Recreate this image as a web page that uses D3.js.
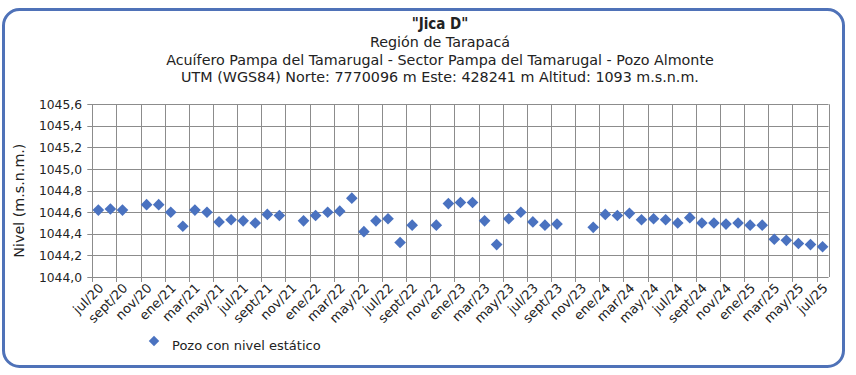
<!DOCTYPE html>
<html><head><meta charset="utf-8">
<script src="https://cdn.jsdelivr.net/npm/d3@7"></script>
<style>body{margin:0;background:#fff}svg{display:block}</style>
</head><body>
<script>
// month buckets on the axis (jul/20 .. jul/25)
const axisStart = "2020-07";
const axisEnd = "2025-07";
const tickLabels = ["jul/20","sept/20","nov/20","ene/21","mar/21","may/21","jul/21","sept/21","nov/21","ene/22","mar/22","may/22","jul/22","sept/22","nov/22","ene/23","mar/23","may/23","jul/23","sept/23","nov/23","ene/24","mar/24","may/24","jul/24","sept/24","nov/24","ene/25","mar/25","may/25","jul/25"];
const dates = ["2020-07","2020-08","2020-09","2020-11","2020-12","2021-01","2021-02","2021-03","2021-04","2021-05","2021-06","2021-07","2021-08","2021-09","2021-10","2021-12","2022-01","2022-02","2022-03","2022-04","2022-05","2022-06","2022-07","2022-08","2022-09","2022-11","2022-12","2023-01","2023-02","2023-03","2023-04","2023-05","2023-06","2023-07","2023-08","2023-09","2023-12","2024-01","2024-02","2024-03","2024-04","2024-05","2024-06","2024-07","2024-08","2024-09","2024-10","2024-11","2024-12","2025-01","2025-02","2025-03","2025-04","2025-05","2025-06","2025-07"];
const levels = [1044.62,1044.63,1044.62,1044.67,1044.67,1044.60,1044.47,1044.62,1044.60,1044.51,1044.53,1044.52,1044.50,1044.58,1044.57,1044.52,1044.57,1044.60,1044.61,1044.73,1044.42,1044.52,1044.54,1044.32,1044.48,1044.48,1044.68,1044.69,1044.69,1044.52,1044.30,1044.54,1044.60,1044.51,1044.48,1044.49,1044.46,1044.58,1044.57,1044.59,1044.53,1044.54,1044.53,1044.50,1044.55,1044.50,1044.50,1044.49,1044.50,1044.48,1044.48,1044.35,1044.34,1044.31,1044.30,1044.28];
const yTicks = [1044.0,1044.2,1044.4,1044.6,1044.8,1045.0,1045.2,1045.4,1045.6];
const titleLines = ["\"Jica D\"","Región de Tarapacá","Acuífero Pampa del Tamarugal - Sector Pampa del Tamarugal - Pozo Almonte","UTM (WGS84) Norte: 7770096 m Este: 428241 m Altitud: 1093 m.s.n.m."];
const yLabel = "Nivel (m.s.n.m.)";
const legendLabel = "Pozo con nivel estático";

const W = 856, H = 375;
const m = {left: 92.3, right: 856-828.6, top: 104.3, bottom: 375-277};
const svg = d3.select("body").append("svg").attr("width", W).attr("height", H);

// outer rounded border
svg.append("rect").attr("x", 3.5).attr("y", 9.5).attr("width", 840).attr("height", 357)
  .attr("rx", 16).attr("fill", "#fff").attr("stroke", "#4F72B8").attr("stroke-width", 3);

const parse = d3.utcParse("%Y-%m");
const monthIndex = s => { const d = parse(s); return d3.utcMonth.count(parse(axisStart), d); };
const nMonths = monthIndex(axisEnd) + 1;
const x = d3.scaleLinear().domain([0, nMonths]).range([m.left, W - m.right]);
const y = d3.scaleLinear().domain([1044.0, 1045.6]).range([H - m.bottom, m.top]);

const font = "'DejaVu Sans', Verdana, sans-serif";

// title
const ty = [29, 47, 64.5, 82];
titleLines.forEach((t, i) => {
  svg.append("text").attr("x", 440).attr("y", ty[i]).attr("text-anchor", "middle")
    .attr("font-family", i === 0 ? "'DejaVu Sans Condensed', sans-serif" : font)
    .attr("font-size", i === 0 ? 15 : 14.3).attr("font-weight", i === 0 ? "bold" : "normal")
    .attr("fill", "#222").text(t);
});

const g = svg.append("g");
// gridlines
const tickIdx = tickLabels.map((_, i) => i * 2);
g.selectAll("line.h").data(yTicks).join("line")
  .attr("x1", m.left - 5).attr("x2", W - m.right).attr("y1", d => Math.round(y(d)) + 0.5).attr("y2", d => Math.round(y(d)) + 0.5)
  .attr("stroke", "#8c8c8c").attr("stroke-width", 1);
g.selectAll("line.v").data(tickIdx.concat([nMonths])).join("line")
  .attr("x1", d => Math.round(x(d)) + 0.5).attr("x2", d => Math.round(x(d)) + 0.5)
  .attr("y1", m.top).attr("y2", d => d === nMonths ? H - m.bottom : H - m.bottom + 5)
  .attr("stroke", "#8c8c8c").attr("stroke-width", 1);

// y tick labels
g.selectAll("text.yt").data(yTicks).join("text")
  .attr("x", 82).attr("y", d => y(d) + 4.5).attr("text-anchor", "end")
  .attr("font-family", font).attr("font-size", 12.3).attr("fill", "#222")
  .text(d => d3.format(".1f")(d).replace(".", ","));

// x tick labels
g.selectAll("text.xt").data(tickLabels).join("text")
  .attr("text-anchor", "end")
  .attr("transform", (d, i) => `translate(${x(i * 2 + 0.5) + 6},${H - m.bottom + 12}) rotate(-45)`)
  .attr("font-family", font).attr("font-size", 13).attr("fill", "#222").text(d => d);

// y label
svg.append("text").attr("transform", `translate(24,${(m.top + H - m.bottom) / 2 + 10}) rotate(-90)`)
  .attr("text-anchor", "middle").attr("font-family", font).attr("font-size", 14.3).attr("fill", "#222").text(yLabel);

// points
const sym = d3.symbol().type(d3.symbolSquare).size(68);
g.selectAll("path.pt").data(dates.map((d, i) => ({d, v: levels[i]}))).join("path")
  .attr("transform", p => `translate(${x(monthIndex(p.d) + 0.5)},${y(p.v)}) rotate(45)`)
  .attr("d", sym).attr("fill", "#4A72C0");

// legend
svg.append("path").attr("transform", "translate(154,341) rotate(45)").attr("d", d3.symbol().type(d3.symbolSquare).size(55)).attr("fill", "#4A72C0");
svg.append("text").attr("x", 172).attr("y", 350).attr("font-family", font).attr("font-size", 13).attr("fill", "#222").text(legendLabel);
</script>
</body></html>
